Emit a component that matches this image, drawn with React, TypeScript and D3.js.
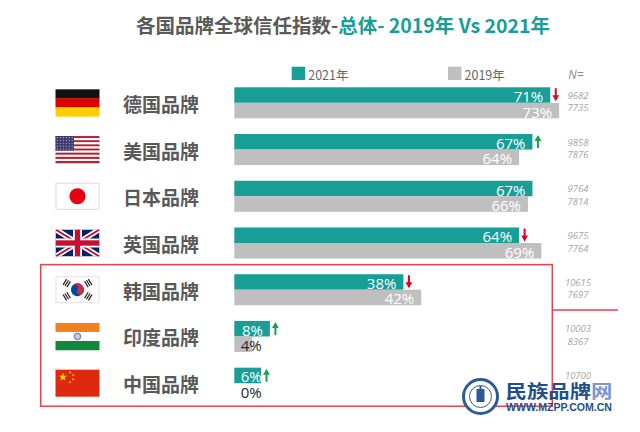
import React, { useEffect, useRef } from 'react';
import * as d3 from 'd3';

const brands = ['德国品牌', '美国品牌', '日本品牌', '英国品牌', '韩国品牌', '印度品牌', '中国品牌'];
const flagCodes = ['de', 'us', 'jp', 'gb', 'kr', 'in', 'cn'];
const seriesNames = ['2021年', '2019年'];
const values2021 = [71, 67, 67, 64, 38, 8, 6];
const values2019 = [73, 64, 66, 69, 42, 4, 0];
const trends = ['down', 'up', '', 'down', 'down', 'up', 'up'];
const sample2021 = ['9682', '9858', '9764', '9675', '10615', '10003', '10700'];
const sample2019 = ['7735', '7876', '7814', '7764', '7697', '8367', ''];

const WIDTH = 640;
const HEIGHT = 432;
const TEAL = '#189e97';
const GRAY = '#bfbfbf';
const CJK = '"Noto Sans CJK SC", sans-serif';
const LATIN = '"Open Sans", "Noto Sans", sans-serif';

type G = d3.Selection<SVGGElement, unknown, null, undefined>;

// 5-point star path
function starPath(cx: number, cy: number, R: number, rot = 0) {
  const r = R * 0.382;
  const pts: string[] = [];
  for (let i = 0; i < 10; i++) {
    const a = -Math.PI / 2 + (i * Math.PI) / 5 + rot;
    const rad = i % 2 === 0 ? R : r;
    pts.push(`${cx + rad * Math.cos(a)},${cy + rad * Math.sin(a)}`);
  }
  return 'M' + pts.join('L') + 'Z';
}

function drawFlag(g: G, code: string, w: number, h: number) {
  if (code === 'de') {
    ['#111111', '#dd0000', '#ffce00'].forEach((c, i) => {
      g.append('rect').attr('x', 0).attr('y', (i * h) / 3).attr('width', w).attr('height', h / 3 + 0.3).attr('fill', c);
    });
  } else if (code === 'us') {
    for (let i = 0; i < 13; i++) {
      g.append('rect').attr('x', 0).attr('y', (i * h) / 13).attr('width', w).attr('height', h / 13 + 0.2)
        .attr('fill', i % 2 === 0 ? '#b22234' : '#ffffff');
    }
    const cw = w * 0.42, ch = (h * 7) / 13;
    g.append('rect').attr('width', cw).attr('height', ch).attr('fill', '#3c3b6e');
    for (let r = 0; r < 5; r++) {
      for (let c = 0; c < 6; c++) {
        g.append('circle').attr('cx', 1.8 + c * (cw - 3.6) / 5).attr('cy', 1.6 + r * (ch - 3.2) / 4)
          .attr('r', 0.55).attr('fill', '#c9cde8');
      }
    }
  } else if (code === 'jp') {
    g.append('rect').attr('x', 0.5).attr('y', 0.5).attr('width', w - 1).attr('height', h - 1)
      .attr('fill', '#fff').attr('stroke', '#dcdcdc');
    g.append('circle').attr('cx', w / 2).attr('cy', h / 2).attr('r', h * 0.3).attr('fill', '#e60012');
  } else if (code === 'gb') {
    const clip = g.append('clipPath').attr('id', 'clip-gb');
    clip.append('rect').attr('width', w).attr('height', h);
    const c = g.append('g').attr('clip-path', 'url(#clip-gb)');
    c.append('rect').attr('width', w).attr('height', h).attr('fill', '#012169');
    const diag = `M0,0L${w},${h}M${w},0L0,${h}`;
    c.append('path').attr('d', diag).attr('stroke', '#fff').attr('stroke-width', h * 0.2);
    c.append('path').attr('d', diag).attr('stroke', '#c8102e').attr('stroke-width', h * 0.07);
    c.append('rect').attr('x', 0).attr('y', h / 2 - h / 6).attr('width', w).attr('height', h / 3).attr('fill', '#fff');
    c.append('rect').attr('x', w / 2 - h / 6).attr('y', 0).attr('width', h / 3).attr('height', h).attr('fill', '#fff');
    c.append('rect').attr('x', 0).attr('y', h / 2 - h / 10).attr('width', w).attr('height', h / 5).attr('fill', '#c8102e');
    c.append('rect').attr('x', w / 2 - h / 10).attr('y', 0).attr('width', h / 5).attr('height', h).attr('fill', '#c8102e');
  } else if (code === 'kr') {
    g.append('rect').attr('x', 0.5).attr('y', 0.5).attr('width', w - 1).attr('height', h - 1)
      .attr('fill', '#fff').attr('stroke', '#e2e2e2');
    const cx = w / 2, cy = h / 2, r = h * 0.24;
    const ang = (Math.atan(h / w) * 180) / Math.PI;
    const t = g.append('g').attr('transform', `translate(${cx},${cy}) rotate(${ang})`);
    t.append('circle').attr('r', r).attr('fill', '#0047a0');
    t.append('path')
      .attr('d', `M${-r},0A${r},${r} 0 0 1 ${r},0A${r / 2},${r / 2} 0 0 1 0,0A${r / 2},${r / 2} 0 0 0 ${-r},0Z`)
      .attr('fill', '#cd2e3a');
    [-180 + ang, -ang, ang, 180 - ang].forEach(a => {
      const tg = g.append('g').attr('transform', `translate(${cx},${cy}) rotate(${a}) translate(${r * 1.95},0)`);
      [-2.2, 0, 2.2].forEach(o => {
        tg.append('rect').attr('x', o - 0.6).attr('y', -3.4).attr('width', 1.2).attr('height', 6.8).attr('fill', '#222');
      });
    });
  } else if (code === 'in') {
    ['#f47f20', '#ffffff', '#12873b'].forEach((c, i) => {
      g.append('rect').attr('x', 0).attr('y', (i * h) / 3).attr('width', w).attr('height', h / 3 + 0.3).attr('fill', c);
    });
    g.append('circle').attr('cx', w / 2).attr('cy', h / 2).attr('r', h * 0.12)
      .attr('fill', '#c8cbe0').attr('stroke', '#3a4a9a').attr('stroke-width', 0.8);
  } else if (code === 'cn') {
    g.append('rect').attr('width', w).attr('height', h).attr('fill', '#de2910');
    g.append('path').attr('d', starPath(w * 0.17, h * 0.27, h * 0.16)).attr('fill', '#ffde00');
    [[0.33, 0.1], [0.4, 0.2], [0.4, 0.36], [0.33, 0.46]].forEach(([px, py]) => {
      g.append('path').attr('d', starPath(w * px, h * py, h * 0.055, 0.4)).attr('fill', '#ffde00');
    });
  }
}

function arrowPath(cx: number, top: number, bottom: number, dir: string) {
  const hw = 3.4, head = 6, sw = 1;
  if (dir === 'down') {
    return `M${cx - sw},${top}L${cx + sw},${top}L${cx + sw},${bottom - head}L${cx + hw},${bottom - head}L${cx},${bottom}L${cx - hw},${bottom - head}L${cx - sw},${bottom - head}Z`;
  }
  return `M${cx - sw},${bottom}L${cx + sw},${bottom}L${cx + sw},${top + head}L${cx + hw},${top + head}L${cx},${top}L${cx - hw},${top + head}L${cx - sw},${top + head}Z`;
}

const TrustChart: React.FC = () => {
  const svgRef = useRef<SVGSVGElement>(null);

  useEffect(() => {
    if (!svgRef.current) return;
    const svg = d3.select(svgRef.current);
    svg.selectAll('*').remove();

    svg.append('rect').attr('width', WIDTH).attr('height', HEIGHT).attr('fill', '#fff');

    // Scales
    const x = d3.scaleLinear().domain([0, 100]).range([234.3, 679.3]);
    const y = d3.scaleBand<string>().domain(brands).range([87.3, 398.7]).paddingInner(0.336).paddingOuter(0);
    const yIn = d3.scaleBand<string>().domain(seriesNames).range([0, y.bandwidth()]);

    // Title
    const title = svg.append('text')
      .attr('x', 343).attr('y', 23.5)
      .attr('text-anchor', 'middle').attr('dominant-baseline', 'central')
      .style('font-family', CJK).style('font-size', '19.5px').style('font-weight', 'bold');
    title.append('tspan').attr('fill', '#595959').text('各国品牌全球信任指数-');
    title.append('tspan').attr('fill', TEAL).text('总体- 2019年 Vs 2021年');

    // Legend
    const legend = svg.append('g');
    [[291.7, TEAL, seriesNames[0]], [448, GRAY, seriesNames[1]]].forEach(([lx, c, t]) => {
      legend.append('rect').attr('x', lx as number).attr('y', 66.7).attr('width', 13.5).attr('height', 13.3).attr('fill', c as string);
      legend.append('text').attr('x', (lx as number) + 16.5).attr('y', 74)
        .attr('dominant-baseline', 'central')
        .style('font-family', CJK).style('font-size', '12.5px').style('fill', '#666')
        .text(t as string);
    });
    svg.append('text').attr('x', 576).attr('y', 74).attr('text-anchor', 'middle').attr('dominant-baseline', 'central')
      .style('font-family', LATIN).style('font-size', '12px').style('font-style', 'italic').style('fill', '#8c8c8c')
      .text('N=');

    // Rows
    brands.forEach((b, i) => {
      const top = y(b) as number;
      const mid = top + y.bandwidth() / 2;
      const row = svg.append('g');

      // flag
      const fw = 44, fh = 27;
      const fg = row.append('g').attr('transform', `translate(${77.5 - fw / 2},${mid - fh / 2})`) as unknown as G;
      drawFlag(fg, flagCodes[i], fw, fh);

      // brand name
      row.append('text').attr('x', 123).attr('y', mid + 0.5).attr('dominant-baseline', 'central')
        .style('font-family', CJK).style('font-size', '19px').style('font-weight', 'bold').style('fill', '#595959')
        .text(b);

      const vals = [values2021[i], values2019[i]];
      seriesNames.forEach((s, k) => {
        const v = vals[k];
        const by = top + (yIn(s) as number);
        row.append('rect')
          .attr('x', x(0)).attr('y', by)
          .attr('width', x(v) - x(0)).attr('height', yIn.bandwidth())
          .attr('fill', k === 0 ? TEAL : GRAY);
        const big = v >= 8;
        row.append('text')
          .attr('x', big ? x(v) - 7 : x(0) + 6.5)
          .attr('y', by + yIn.bandwidth() / 2 + 1)
          .attr('text-anchor', big ? 'end' : 'start')
          .attr('dominant-baseline', 'central')
          .style('font-family', LATIN).style('font-size', '15px')
          .style('fill', k === 0 || big ? '#ffffff' : '#262626')
          .text(v + '%');
      });

      // trend arrow
      if (trends[i]) {
        const cx = x(values2021[i]) + 5.5;
        row.append('path')
          .attr('d', arrowPath(cx, top + 1, top + 14, trends[i]))
          .attr('fill', trends[i] === 'down' ? '#e2001a' : '#1aa34a');
      }

      // sample sizes
      [[sample2021[i], mid - 7.5], [sample2019[i], mid + 5]].forEach(([t, ty]) => {
        row.append('text').attr('x', 578).attr('y', ty as number)
          .attr('text-anchor', 'middle').attr('dominant-baseline', 'central')
          .style('font-family', LATIN).style('font-size', '9.5px').style('font-style', 'italic').style('fill', '#a6a6a6')
          .text(t as string);
      });
    });

    // Highlight box round the last three brands
    const boxTop = (y(brands[4]) as number) - 9.6;
    const boxBottom = (y(brands[6]) as number) + y.bandwidth() + 7.5;
    svg.append('rect')
      .attr('x', 40.7).attr('y', boxTop).attr('width', 511.6).attr('height', boxBottom - boxTop)
      .attr('fill', 'none').attr('stroke', '#e8424a').attr('stroke-width', 1.5);
    const midY = ((y(brands[5]) as number) + (y(brands[4]) as number) + y.bandwidth()) / 2;
    svg.append('line')
      .attr('x1', 552.3).attr('x2', 618).attr('y1', midY - 3).attr('y2', midY - 3)
      .attr('stroke', '#e8424a').attr('stroke-width', 1.5);

    // Watermark
    const wm = svg.append('g');
    wm.append('circle').attr('cx', 480.5).attr('cy', 396.5).attr('r', 17).attr('fill', '#fff')
      .attr('stroke', '#2d5b9a').attr('stroke-width', 3);
    wm.append('circle').attr('cx', 480.5).attr('cy', 396.5).attr('r', 11).attr('fill', 'none')
      .attr('stroke', '#2d5b9a').attr('stroke-width', 1);
    wm.append('rect').attr('x', 476.5).attr('y', 389).attr('width', 8).attr('height', 13).attr('fill', '#2d5b9a');
    wm.append('rect').attr('x', 479.5).attr('y', 386).attr('width', 2).attr('height', 3).attr('fill', '#2d5b9a');
    const wt = wm.append('text').attr('x', 505.5).attr('y', 389.8).attr('dominant-baseline', 'central')
      .attr('textLength', 107).attr('lengthAdjust', 'spacingAndGlyphs')
      .style('font-family', CJK).style('font-size', '18px').style('font-weight', 'bold');
    wt.append('tspan').attr('fill', '#1f4f8f').text('民族品牌');
    wt.append('tspan').attr('fill', '#7b98cc').text('网');
    wm.append('text').attr('x', 506).attr('y', 406.5).attr('dominant-baseline', 'central')
      .attr('textLength', 106).attr('lengthAdjust', 'spacingAndGlyphs')
      .style('font-family', '"Liberation Sans", Arial, sans-serif').style('font-size', '10.5px').style('font-weight', 'bold')
      .style('fill', '#1f4f8f')
      .text('WWW.MZPP.COM.CN');
  }, []);

  return (
    <svg
      ref={svgRef}
      width={WIDTH}
      height={HEIGHT}
      style={{ position: 'absolute', left: 0, top: 0, display: 'block' }}
    />
  );
};

export default function App() {
  return <TrustChart />;
}
